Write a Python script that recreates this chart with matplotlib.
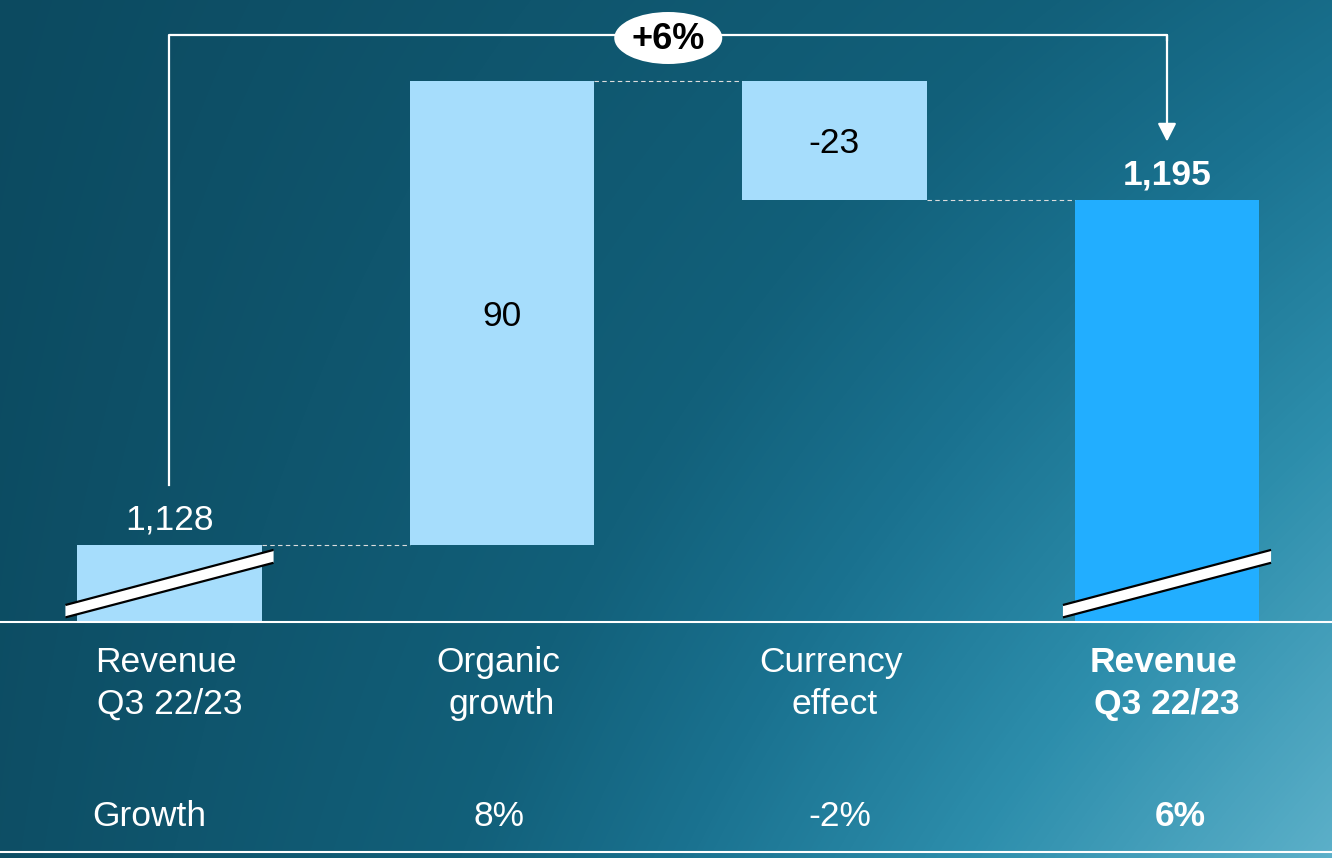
import numpy as np
import matplotlib
matplotlib.use('Agg')
import matplotlib.pyplot as plt
from matplotlib.colors import LinearSegmentedColormap
from matplotlib.patches import Ellipse, Polygon

plt.rcParams['font.family'] = ['Liberation Sans', 'DejaVu Sans']

# ======= Data =======
cat_line1 = ['Revenue', 'Organic', 'Currency', 'Revenue']
cat_line2 = ['Q3 22/23', 'growth', 'effect', 'Q3 22/23']
start_value = 1128
changes = [90, -23]
end_value = 1195
growth_labels = ['8%', '-2%', '6%']
total_change = '+6%'

# broken axis: bars start at this value
axis_base = 1113

# ======= Layout helpers =======
W, H = 1332, 858
px = 1 / 5.149             # data units per pixel (vertical)
base_px = 622              # pixel row of the baseline


def py(p):
    # pixel row -> data value
    return axis_base + (base_px - p) * px


fig = plt.figure(figsize=(W / 100, H / 100), dpi=100)

# ======= Background gradient =======
bg = fig.add_axes([0, 0, 1, 1])
xx, yy = np.meshgrid(np.linspace(0, 1, W), np.linspace(0, 1, H))
t = 0.08 * yy + xx * (0.5 + 0.42 * yy)
cmap = LinearSegmentedColormap.from_list('bg', [(0, '#0c4a60'), (0.4, '#12607a'), (0.55, '#1a7290'),
                                                (0.75, '#2d8eac'), (1, '#5cb0c9')])
bg.imshow(t, cmap=cmap, aspect='auto', vmin=0, vmax=1)
bg.axis('off')

# ======= Main axes =======
ax = fig.add_axes([0, 0, 1, 1])
ax.set_facecolor('none')
ax.axis('off')
ax.set_xlim(-169.5 / 332.5, (W - 169.5) / 332.5)
ax.set_ylim(py(H), py(0))

x = np.arange(4)
bar_w = 0.556

# waterfall bottoms / heights
bottoms = [axis_base]
heights = [start_value - axis_base]
levels = [start_value]
running = start_value
for c in changes:
    bottoms.append(running if c > 0 else running + c)
    heights.append(abs(c))
    running += c
    levels.append(running)
bottoms.append(axis_base)
heights.append(end_value - axis_base)

colors = ['#a6ddfc', '#a6ddfc', '#a6ddfc', '#22aeff']
ax.bar(x, heights, bottom=bottoms, width=bar_w, color=colors, zorder=2)

# dashed connectors
for i in range(3):
    ax.plot([x[i] + bar_w / 2, x[i + 1] - bar_w / 2], [levels[i], levels[i]],
            color='#dddddd', lw=0.8, ls=(0, (4, 3)), zorder=2)

# axis break marks
for i in [0, 3]:
    x0 = x[i] - bar_w / 2 - 0.035
    x1 = x[i] + bar_w / 2 + 0.035
    lo = [axis_base + 0.9, axis_base + 11.5]
    hi = [axis_base + 3.3, axis_base + 14.0]
    ax.add_patch(Polygon([(x0, lo[0]), (x1, lo[1]), (x1, hi[1]), (x0, hi[0])],
                         closed=True, facecolor='white', edgecolor='none', zorder=3))
    ax.plot([x0, x1], lo, color='black', lw=1.6, zorder=4, solid_capstyle='butt')
    ax.plot([x0, x1], hi, color='black', lw=1.6, zorder=4, solid_capstyle='butt')

# baseline and bottom rule
ax.axhline(axis_base, color='white', lw=1.5, zorder=3)
ax.axhline(py(852), color='white', lw=1.5, zorder=3)

# value labels
fs = 25.5
ax.text(x[0], start_value + 15 * px, f'{start_value:,}', ha='center', va='baseline',
        fontsize=fs, color='white', zorder=5)
for i, c in enumerate(changes, start=1):
    mid = bottoms[i] + heights[i] / 2
    ax.text(x[i], mid - 12.5 * px, f'{c:,}', ha='center', va='baseline',
            fontsize=fs, color='black', zorder=5)
ax.text(x[3], end_value + 15 * px, f'{end_value:,}', ha='center', va='baseline',
        fontsize=fs, color='white', fontweight='bold', zorder=5)

# bracket with arrow
top_y = py(35)
ax.plot([x[0], x[0], x[3], x[3]], [start_value + 11.6, top_y, top_y, top_y - 1],
        color='white', lw=1.6, zorder=3)
ax.annotate('', xy=(x[3], end_value + 11.3), xytext=(x[3], top_y),
            arrowprops=dict(arrowstyle='-|>,head_length=0.55,head_width=0.28', mutation_scale=20,
                            color='white', lw=1.6, shrinkA=0, shrinkB=0), zorder=3)
mid_x = (x[0] + x[3]) / 2
ax.add_patch(Ellipse((mid_x, py(38)), 108 / 332.5, 52 * px, facecolor='white',
                     edgecolor='none', zorder=4))
ax.text(mid_x, py(49), total_change, ha='center', va='baseline', fontsize=26,
        fontweight='bold', color='black', zorder=5)

# category labels
for i in range(4):
    weight = 'bold' if i == 3 else 'normal'
    ax.text(x[i] - 0.01, py(672), cat_line1[i], ha='center', va='baseline',
            fontsize=fs, color='white', fontweight=weight)
    ax.text(x[i] + 0.0, py(714), cat_line2[i], ha='center', va='baseline',
            fontsize=fs, color='white', fontweight=weight)

# growth row
ax.text(x[0] - 0.233, py(826), 'Growth', ha='left', va='baseline', fontsize=fs, color='white')
growth_dx = [-0.01, 0.017, 0.04]
for i, g in enumerate(growth_labels, start=1):
    weight = 'bold' if i == 3 else 'normal'
    ax.text(x[i] + growth_dx[i - 1], py(826), g, ha='center', va='baseline',
            fontsize=fs, color='white', fontweight=weight)

fig.savefig('out.png', dpi=100)
